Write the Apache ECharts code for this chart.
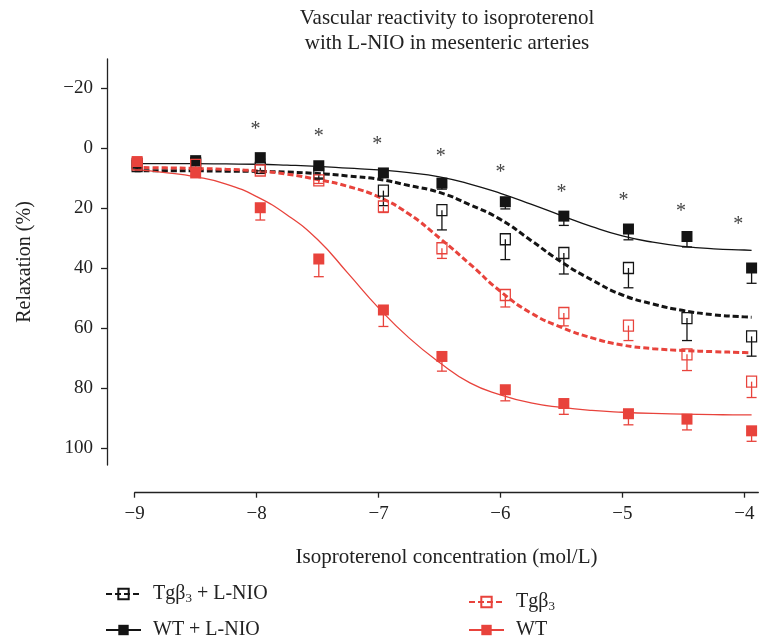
<!DOCTYPE html>
<html>
<head>
<meta charset="utf-8">
<script src="https://cdn.jsdelivr.net/npm/echarts@6/dist/echarts.min.js"></script>
<style>
  html, body { margin: 0; padding: 0; background: #fff; }
  #chart { width: 761px; height: 641px; }
</style>
</head>
<body>
<div id="chart"></div>
<script>
const xTicks = [-9, -8, -7, -6, -5, -4];
const yTicks = [-20, 0, 20, 40, 60, 80, 100];

// measured points (log concentration, % relaxation, SEM)
const doseX = [-8.98, -8.5, -7.97, -7.49, -6.96, -6.48, -5.96, -5.48, -4.95, -4.47, -3.94];
const wt = [4.5, 8.3, 19.9, 37, 54, 69.5, 80.6, 85.2, 88.6, 90.4, 94.3];
const wtErr = [1, 0.5, 4.1, 5.9, 5.5, 4.9, 3.7, 3.6, 3.7, 3.6, 3.5];
const tg = [5.5, 5.6, 7.5, 10.8, 19.5, 33.4, 49, 55, 59.2, 68.8, 77.9];
const tgErr = [0.8, 0.8, 1, 1, 2, 3.4, 4, 4.3, 5, 5.4, 5.3];
const wtNio = [5, 4.2, 3.2, 5.9, 8.3, 11.7, 17.9, 22.7, 27, 29.5, 40];
const wtNioErr = [0.5, 0.5, 0.5, 0.5, 1, 2, 2.4, 3.1, 3.6, 3.5, 5.1];
const tgNio = [6, 5.1, 6.6, 8.5, 14.2, 20.7, 30.4, 35, 40, 56.7, 62.8];
const tgNioErr = [1, 0.8, 1, 1.5, 5, 6.6, 6.8, 7, 6.6, 7.5, 6.6];

// fitted curves
const fitX = [-9, -8.75, -8.5, -8.25, -8, -7.75, -7.5, -7.25, -7, -6.75, -6.5,
  -6.25, -6, -5.75, -5.5, -5.25, -5, -4.75, -4.5, -4.25, -4, -3.94];
const wtFit = [7.2, 8.2, 9.6, 12.0, 16.2, 22.3, 30.5, 41.8, 53.3, 63.3, 71.5,
  78.3, 82.3, 85.0, 86.5, 87.5, 88.1, 88.5, 88.7, 88.9, 89.0, 89.0];
const tgFit = [6.5, 6.6, 6.8, 7.1, 7.6, 8.7, 10.5, 12.8, 16.3, 22.0, 30.0,
  38.7, 47.8, 55.0, 59.8, 63.3, 65.7, 66.9, 67.5, 67.9, 68.2, 68.3];
const wtNioFit = [5.2, 5.2, 5.2, 5.3, 5.4, 5.7, 6.1, 6.7, 7.3, 8.2, 9.6,
  12.0, 15.1, 18.7, 22.5, 26.2, 29.3, 31.4, 32.8, 33.6, 34.0, 34.1];
const tgNioFit = [7.6, 7.6, 7.6, 7.7, 7.8, 8.0, 8.5, 9.3, 10.4, 12.5, 14.8,
  18.9, 23.8, 30.8, 38.0, 44.0, 49.0, 52.0, 54.2, 55.6, 56.3, 56.4];

// significance marks
const starX = [-8.01, -7.49, -7.01, -6.49, -6.0, -5.5, -4.99, -4.52, -4.05];
const starY = [-7.3, -5.1, -2.5, 1.7, 6.9, 13.5, 16.1, 19.8, 24.4];

const RED = '#e8433c';
const BLACK = '#141414';
const SERIF = '"Liberation Serif", "DejaVu Serif", serif';

const zip = (xs, ys) => xs.map((x, i) => [x, ys[i]]);
const minus = v => String(v).replace('-', '\u2212');

function curve(name, ys, color, dashed) {
  return {
    name: name,
    type: 'line',
    data: zip(fitX, ys),
    smooth: true,
    showSymbol: false,
    symbol: 'rect',
    silent: true,
    lineStyle: { color: color, width: dashed ? 3 : 1.3, type: dashed ? [6, 3] : 'solid' },
    itemStyle: dashed
      ? { color: 'rgba(0,0,0,0)', borderColor: color, borderWidth: 1.3 }
      : { color: color },
    z: 2
  };
}

function errBars(vals, errs, color) {
  return {
    type: 'custom',
    silent: true,
    encode: { x: 0, y: 1 },
    data: doseX.map((x, i) => [x, vals[i], errs[i]]),
    renderItem: function (params, api) {
      const p0 = api.coord([api.value(0), api.value(1)]);
      const p1 = api.coord([api.value(0), api.value(1) + api.value(2)]);
      const st = { stroke: color, lineWidth: 1.3 };
      return {
        type: 'group',
        children: [
          { type: 'line', shape: { x1: p0[0], y1: p0[1], x2: p1[0], y2: p1[1] }, style: st },
          { type: 'line', shape: { x1: p1[0] - 5, y1: p1[1], x2: p1[0] + 5, y2: p1[1] }, style: st }
        ]
      };
    },
    z: 3
  };
}

function points(vals, color, open) {
  return {
    type: 'scatter',
    silent: true,
    data: zip(doseX, vals),
    symbol: 'rect',
    symbolSize: open ? [10, 11] : 11,
    itemStyle: open
      ? { color: 'rgba(0,0,0,0)', borderColor: color, borderWidth: 1.3, opacity: 1 }
      : { color: color, opacity: 1 },
    z: 4
  };
}

const legendNames = {
  'Tg\u03b23 + L-NIO': 'Tg\u03b2{sub|3} + L-NIO',
  'Tg\u03b23': 'Tg\u03b2{sub|3}'
};

function legendAt(name, left, top) {
  return {
    data: [name],
    left: left,
    top: top,
    itemWidth: 35,
    itemHeight: 13,
    selectedMode: false,
    formatter: n => legendNames[n] || n,
    textStyle: {
      fontFamily: SERIF,
      fontSize: 20,
      color: '#222',
      padding: [0, 0, 0, 7],
      rich: { sub: { fontFamily: SERIF, fontSize: 13, color: '#222', padding: [10, 0, 0, 0] } }
    }
  };
}

const chart = echarts.init(document.getElementById('chart'));

chart.setOption({
  backgroundColor: '#fff',
  animation: false,
  title: {
    text: 'Vascular reactivity to isoproterenol\nwith L-NIO in mesenteric arteries',
    left: 442,
    top: 1,
    textAlign: 'center',
    textStyle: { fontFamily: SERIF, fontSize: 21, fontWeight: 'normal', color: '#222', lineHeight: 25 }
  },
  legend: [
    legendAt('Tg\u03b23 + L-NIO', 100, 579),
    legendAt('WT + L-NIO', 100, 615),
    legendAt('Tg\u03b23', 463, 587),
    legendAt('WT', 463, 615)
  ],
  grid: { left: 134.7, right: 2.7, top: 59, bottom: 176 },
  xAxis: {
    type: 'value',
    min: -9,
    max: -3.885,
    offset: 27.7,
    axisLine: { onZero: false, lineStyle: { color: '#222', width: 1.3 } },
    axisTick: { customValues: xTicks, length: 5, lineStyle: { color: '#222', width: 1.3 } },
    axisLabel: { customValues: xTicks, formatter: minus, fontFamily: SERIF, fontSize: 19, color: '#222', margin: 12 },
    splitLine: { show: false },
    name: 'Isoproterenol concentration (mol/L)',
    nameLocation: 'middle',
    nameGap: 54,
    nameTextStyle: { fontFamily: SERIF, fontSize: 21, color: '#222' }
  },
  yAxis: {
    type: 'value',
    inverse: true,
    min: -29.7,
    max: 105.7,
    offset: 27.7,
    axisLine: { show: true, onZero: false, lineStyle: { color: '#222', width: 1.3 } },
    axisTick: { show: true, customValues: yTicks, length: 6, lineStyle: { color: '#222', width: 1.3 } },
    axisLabel: { customValues: yTicks, formatter: minus, fontFamily: SERIF, fontSize: 19, color: '#222', margin: 14 },
    splitLine: { show: false },
    name: 'Relaxation (%)',
    nameLocation: 'middle',
    nameRotate: 90,
    nameGap: 72,
    nameTextStyle: { fontFamily: SERIF, fontSize: 20, color: '#222' }
  },
  series: [
    curve('WT + L-NIO', wtNioFit, BLACK, false),
    curve('Tg\u03b23 + L-NIO', tgNioFit, BLACK, true),
    curve('Tg\u03b23', tgFit, RED, true),
    curve('WT', wtFit, RED, false),
    errBars(wtNio, wtNioErr, BLACK),
    errBars(tgNio, tgNioErr, BLACK),
    errBars(tg, tgErr, RED),
    errBars(wt, wtErr, RED),
    points(wtNio, BLACK, false),
    points(tgNio, BLACK, true),
    points(tg, RED, true),
    points(wt, RED, false),
    {
      type: 'custom',
      silent: true,
      encode: { x: 0, y: 1 },
      data: zip(starX, starY),
      renderItem: function (params, api) {
        const p = api.coord([api.value(0), api.value(1)]);
        return {
          type: 'text',
          x: p[0],
          y: p[1] + 4,
          style: { text: '*', fontFamily: SERIF, fontSize: 20, fill: '#444', align: 'center', verticalAlign: 'middle' }
        };
      },
      z: 5
    }
  ]
});
</script>
</body>
</html>
